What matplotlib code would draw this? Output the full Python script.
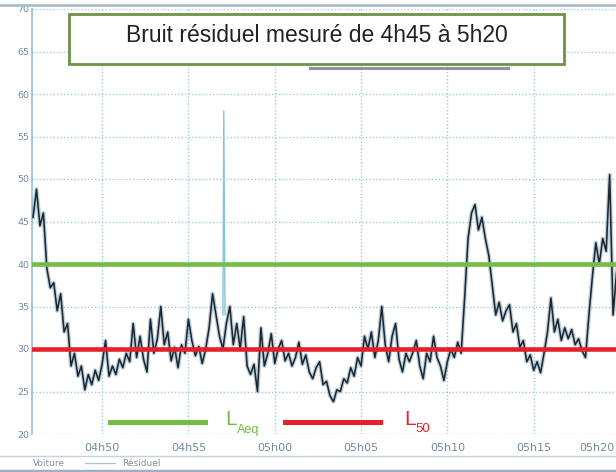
import numpy as np
import matplotlib
matplotlib.use("Agg")
import matplotlib.pyplot as plt
from matplotlib.lines import Line2D
from matplotlib.patches import Rectangle

# ---------------- data ----------------
# time in minutes after 04h00, regular sampling every 0.2 min starting 04h46
t_start = 46.0
t_step = 0.2
noise_db = [
    45.5, 48.8, 44.5, 46.0, 39.5, 37.2, 37.8, 34.5, 36.5, 32.0,
    33.0, 28.0, 29.5, 26.8, 28.0, 25.2, 27.0, 25.8, 27.5, 26.3,
    28.2, 31.0, 26.8, 28.0, 27.0, 28.8, 27.8, 29.5, 28.5, 33.0,
    29.0, 31.5, 28.8, 27.3, 33.5, 29.5, 31.2, 35.0, 30.5, 32.0,
    28.6, 30.2, 27.8, 30.5, 29.5, 33.5, 31.0, 29.2, 30.3, 28.3,
    30.0, 32.5, 36.5, 34.0, 31.5, 30.0, 33.0, 35.0, 30.5, 33.0,
    30.0, 33.8, 28.0, 27.0, 28.2, 25.0, 32.5, 28.0, 29.5, 31.8,
    28.3, 30.0, 31.0, 28.6, 29.5, 28.0, 29.0, 30.8, 28.2, 29.3,
    27.3, 26.5, 27.8, 28.5, 25.8, 26.2, 24.5, 23.8, 25.2, 25.0,
    26.5, 26.0, 27.8, 26.8, 29.0, 28.0, 31.5, 30.0, 32.0, 29.0,
    31.0, 35.0, 30.5, 28.5, 31.5, 33.0, 28.8, 27.3, 29.5, 28.5,
    29.6, 31.0, 28.0, 26.5, 29.5, 28.5, 31.5, 29.0, 28.0, 26.3,
    28.5, 30.0, 29.0, 30.8, 29.5, 36.0, 43.0, 46.0, 47.0, 44.0,
    45.5, 43.0, 41.0, 37.5, 34.0, 35.5, 33.3, 34.5, 35.2, 32.0,
    33.0, 30.2, 31.0, 28.5, 29.3, 27.5, 28.5, 27.2, 29.5, 32.0,
    36.0, 32.0, 33.5, 31.0, 32.5, 31.2, 32.3, 30.5, 31.2, 29.8,
    29.0, 34.0, 38.5, 42.5, 40.0, 43.0, 41.5, 50.5, 34.0, 39.0,
    41.0,
]
spike_t = [57.0, 57.05, 57.12]
spike_db = [34.0, 58.0, 34.0]

laeq_level = 40
l50_level = 30

x_ticks = [50, 55, 60, 65, 70, 75, 80]
x_labels = ["04h50", "04h55", "05h00", "05h05", "05h10", "05h15", "05h20"]
y_ticks = [20, 25, 30, 35, 40, 45, 50, 55, 60, 65, 70]
title = "Bruit résiduel mesuré de 4h45 à 5h20"

# ---------------- styles ----------------
GREEN = "#71bd45"
RED = "#e6202a"
GRID = "#9ccbe0"
TICKC = "#75899f"
FONT = "Liberation Sans"

W, H = 616, 472
def fx(px):
    return px / W
def fy(py):
    return 1 - py / H

fig = plt.figure(figsize=(W / 100, H / 100), dpi=100)
fig.patch.set_facecolor("white")

ax = fig.add_axes([fx(32), fy(434), (620 - 32) / W, (434 - 9) / H])
ax.set_xlim(45.94, 80.0)
ax.set_ylim(20, 70)

t = t_start + t_step * np.arange(len(noise_db))
ax.plot(t, noise_db, color="#5f8aa3", lw=3.0, alpha=0.4, zorder=3)
ax.plot(t, noise_db, color="#1b2731", lw=1.15, zorder=4)
ax.plot(spike_t, spike_db, color="#86c5da", lw=1.0, zorder=2)

ax.axhline(laeq_level, color=GREEN, lw=3.3, zorder=5)
ax.axhline(l50_level, color=RED, lw=3.3, zorder=5)

ax.set_xticks(x_ticks)
ax.set_xticklabels(x_labels[:-1] + [""])
ax.set_yticks(y_ticks)
ax.grid(True, color=GRID, ls=(0, (1, 1.5)), lw=1.0, zorder=0)
ax.tick_params(axis="both", length=0, colors=TICKC)
ax.tick_params(axis="x", pad=6.5, labelsize=8)
ax.tick_params(axis="y", pad=2, labelsize=6.8)
for lab in ax.get_xticklabels() + ax.get_yticklabels():
    lab.set_color(TICKC)
for s in ["top", "right", "bottom"]:
    ax.spines[s].set_visible(False)
ax.spines["left"].set_color("#8fc1d8")
ax.spines["left"].set_linewidth(1.2)

# last x label sits against the right edge
xlab_y = ax.get_xticklabels()[0].get_position()[1]
fig.text(fx(615), fy(448), x_labels[-1], fontsize=8, color=TICKC, ha="right", va="center")

# top and bottom decoration lines
fig.add_artist(Line2D([0, 1], [fy(5), fy(5)], color="#a9bccb", lw=2, transform=fig.transFigure))
fig.add_artist(Line2D([0, 1], [fy(456), fy(456)], color="#c8d0d8", lw=1, transform=fig.transFigure))
fig.add_artist(Line2D([0, 1], [fy(471), fy(471)], color="#9fb0c0", lw=2.5, transform=fig.transFigure))
fig.text(fx(33), fy(463), "Voiture", fontsize=6.5, color="#8090a0", va="center", ha="left")
fig.add_artist(Line2D([fx(85), fx(115)], [fy(463), fy(463)], color="#b0c4d0", lw=1, transform=fig.transFigure))
fig.text(fx(122), fy(463), "Résiduel", fontsize=6.5, color="#8090a0", va="center", ha="left")

# obscured line under the title box
fig.add_artist(Line2D([fx(310), fx(508)], [fy(68), fy(68)], color="#76768a", lw=2.2, alpha=0.8,
                      transform=fig.transFigure))

# title box
box = Rectangle((fx(69), fy(64)), fx(564) - fx(69), (64 - 14) / H, transform=fig.transFigure,
                facecolor="white", edgecolor="#6e9347", lw=2, zorder=10)
fig.add_artist(box)
fig.text(fx(317), fy(42.5), title, fontsize=16.5, family=FONT, color="#222222",
         ha="center", va="baseline", zorder=11)

# level legend
fig.add_artist(Line2D([fx(110), fx(205)], [fy(421.5), fy(421.5)], color=GREEN, lw=3.6, transform=fig.transFigure))
fig.text(fx(225), fy(425), "L", fontsize=15, family=FONT, color=GREEN, ha="left", va="baseline")
fig.text(fx(236.5), fy(432.5), "Aeq", fontsize=9.1, family=FONT, color=GREEN, ha="left", va="baseline")
fig.add_artist(Line2D([fx(285), fx(380)], [fy(421.5), fy(421.5)], color=RED, lw=3.6, transform=fig.transFigure))
fig.text(fx(404.5), fy(425), "L", fontsize=15, family=FONT, color=RED, ha="left", va="baseline")
fig.text(fx(415), fy(432.5), "50", fontsize=9.5, family=FONT, color=RED, ha="left", va="baseline")

fig.savefig("out.png", dpi=100)
